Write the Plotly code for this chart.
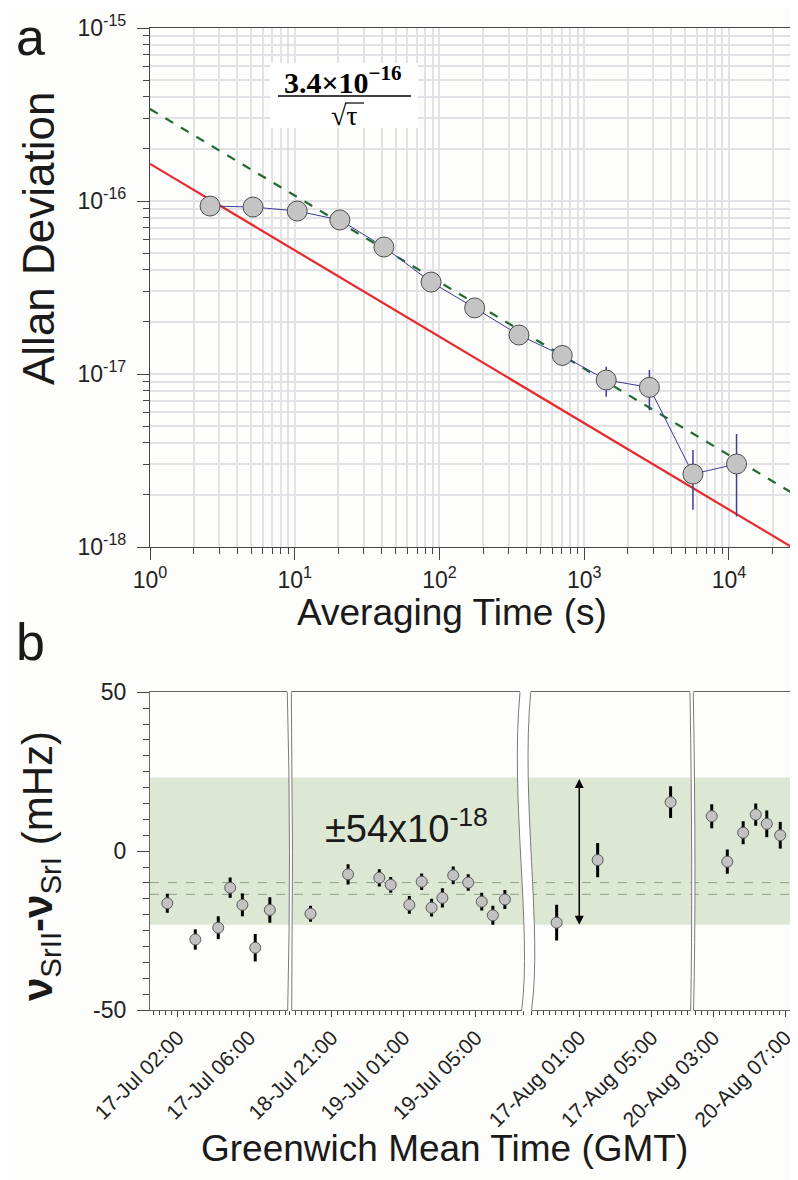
import plotly.graph_objects as go

# ---------------- panel a: Allan deviation ----------------
tau = [2.6, 5.15, 10.4, 20.5, 41.3, 87.5, 175, 354, 705, 1419, 2820, 5640, 11280]
adev = [9.35e-17, 9.23e-17, 8.75e-17, 7.77e-17, 5.42e-17, 3.40e-17, 2.41e-17,
        1.68e-17, 1.28e-17, 9.23e-18, 8.37e-18, 2.64e-18, 3.02e-18]
adev_err_hi = [2e-18, 2e-18, 2e-18, 2e-18, 1.5e-18, 1.2e-18, 1.0e-18,
               0.9e-18, 1.5e-18, 1.77e-18, 2.2e-18, 1.0e-18, 1.48e-18]
adev_err_lo = [2e-18, 2e-18, 2e-18, 2e-18, 1.5e-18, 1.2e-18, 1.0e-18,
               0.9e-18, 1.5e-18, 1.84e-18, 2.2e-18, 1.0e-18, 1.52e-18]

# straight lines on log-log, end points
line_tau = [1, 30000]
limit_adev = [1.64e-16, 9.5e-19]    # red solid
fit_adev = [3.4e-16, 1.96e-18]      # green dashed, 3.4e-16/sqrt(tau)

decade_vals = [1, 10, 100, 1000, 10000]
decade_text = ["10<sup>0</sup>", "10<sup>1</sup>", "10<sup>2</sup>",
               "10<sup>3</sup>", "10<sup>4</sup>"]
adev_vals = [1e-18, 1e-17, 1e-16, 1e-15]
adev_text = ["10<sup>-18</sup>", "10<sup>-17</sup>", "10<sup>-16</sup>", "10<sup>-15</sup>"]

# ---------------- panel b: frequency difference ----------------
seg1_time = ["2012-07-17 01:25", "2012-07-17 02:59", "2012-07-17 04:16",
             "2012-07-17 04:56", "2012-07-17 05:37", "2012-07-17 06:20",
             "2012-07-17 07:09"]
seg1_diff = [-16.4, -27.8, -24.1, -11.5, -16.9, -30.4, -18.5]
seg1_err = [3.0, 3.2, 3.6, 3.2, 3.6, 4.3, 4.0]

seg2_time = ["2012-07-18 19:50", "2012-07-18 21:55", "2012-07-18 23:39",
             "2012-07-19 00:17", "2012-07-19 01:19", "2012-07-19 02:00",
             "2012-07-19 02:33", "2012-07-19 03:09", "2012-07-19 03:45",
             "2012-07-19 04:35", "2012-07-19 05:20", "2012-07-19 05:57",
             "2012-07-19 06:37"]
seg2_diff = [-19.7, -7.3, -8.4, -10.6, -16.9, -9.6, -17.8, -14.7, -7.6,
             -9.9, -15.9, -20.2, -15.2]
seg2_err = [2.5, 3.2, 2.7, 2.5, 2.8, 2.6, 2.8, 3.0, 2.8, 2.6, 2.8, 3.0, 3.0]

seg3_time = ["2012-08-16 23:45", "2012-08-17 02:01", "2012-08-17 06:03"]
seg3_diff = [-22.5, -2.8, 15.4]
seg3_err = [5.6, 5.4, 5.0]

seg4_time = ["2012-08-20 02:55", "2012-08-20 03:47", "2012-08-20 04:40",
             "2012-08-20 05:22", "2012-08-20 05:59", "2012-08-20 06:44"]
seg4_diff = [11.0, -3.3, 5.8, 11.5, 8.6, 5.0]
seg4_err = [3.8, 3.8, 3.6, 3.5, 4.2, 4.2]

band_half = 23.2          # +-54e-18 of the Sr clock frequency, in mHz
mean_lines = [-9.9, -13.6]
arrow_time = "2012-08-17 01:00"

# ---------------- geometry helpers (screen pixels -> paper) ----------------
# the page body has an 8px margin, so the figure is 8px smaller than the window
W, H = 790, 1172
ML, MR, MT, MB = 142, 1, 20, 170
PAGE_OFF = 8


def fx(px):
    return (px - PAGE_OFF - ML) / (W - ML - MR)


def fy(py):
    return (H - MB - (py - PAGE_OFF)) / (H - MT - MB)


def pt(p):
    return f"{fx(p[0]):.5f},{fy(p[1]):.5f}"


FONT = "Liberation Sans, Arial, sans-serif"
SERIF = "Liberation Serif, Times New Roman, serif"
BG = "#fdfdfb"
GRID = "#e1e1e6"
AXC = "#444444"

fig = go.Figure()

# panel a traces
fig.add_trace(go.Scatter(x=line_tau, y=limit_adev, mode="lines",
                         line=dict(color="#e8292b", width=2.2),
                         xaxis="x", yaxis="y", showlegend=False))
fig.add_trace(go.Scatter(x=line_tau, y=fit_adev, mode="lines",
                         line=dict(color="#1f6b2f", width=2.2, dash="dash"),
                         xaxis="x", yaxis="y", showlegend=False))
fig.add_trace(go.Scatter(x=tau, y=adev, mode="lines+markers",
                         line=dict(color="#3c3c99", width=1),
                         marker=dict(size=20, color="#c4c4c4",
                                     line=dict(color="#4d4d4d", width=1)),
                         error_y=dict(type="data", symmetric=False, array=adev_err_hi,
                                      arrayminus=adev_err_lo, color="#3c3c99",
                                      thickness=1.5, width=0),
                         xaxis="x", yaxis="y", showlegend=False))

# panel b traces
segs = [(seg1_time, seg1_diff, seg1_err, "x2"),
        (seg2_time, seg2_diff, seg2_err, "x3"),
        (seg3_time, seg3_diff, seg3_err, "x4"),
        (seg4_time, seg4_diff, seg4_err, "x5")]
for t, d, e, xa in segs:
    fig.add_trace(go.Scatter(x=t, y=d, mode="markers",
                             marker=dict(size=11, color="#c2c2c2",
                                         line=dict(color="#5a5a5a", width=1)),
                             error_y=dict(type="data", array=e, color="black",
                                          thickness=3, width=0),
                             xaxis=xa, yaxis="y2", showlegend=False))

# axes -------------------------------------------------------------
top_dom = [fy(547), 1]
bot_dom = [0, fy(692.3)]
TICKF = dict(size=23, color="#222")

fig.update_layout(
    xaxis=dict(type="log", domain=[0, 1], anchor="y", range=[0, 4.47],
               tickmode="array", tickvals=decade_vals, ticktext=decade_text,
               ticks="outside", ticklen=12, tickcolor=AXC, automargin=False,
               showline=True, linecolor=AXC, linewidth=1.2, mirror=True,
               showgrid=True, gridcolor=GRID, gridwidth=2,
               minor=dict(dtick="D1", ticks="outside", ticklen=6, tickcolor=AXC,
                          showgrid=True, gridcolor=GRID, gridwidth=2),
               tickfont=TICKF),
    yaxis=dict(type="log", domain=top_dom, anchor="x", range=[-18, -15],
               tickmode="array", tickvals=adev_vals, ticktext=adev_text,
               ticks="outside", ticklen=12, tickcolor=AXC, automargin=False,
               ticklabelstandoff=6,
               showline=True, linecolor=AXC, linewidth=1.2, mirror=True,
               showgrid=True, gridcolor=GRID, gridwidth=2,
               minor=dict(dtick="D1", ticks="outside", ticklen=6, tickcolor=AXC,
                          showgrid=True, gridcolor=GRID, gridwidth=2),
               tickfont=TICKF),
    yaxis2=dict(domain=bot_dom, anchor="x2", range=[-50, 50],
                tickmode="array", tickvals=[-50, 0, 50], ticktext=["-50", "0", "50"],
                ticks="outside", ticklen=12, tickcolor=AXC, automargin=False,
                ticklabelstandoff=6,
                showline=True, linecolor="#666", linewidth=1.2,
                showgrid=False, zeroline=False,
                minor=dict(dtick=5, ticks="outside", ticklen=6, tickcolor=AXC),
                tickfont=TICKF),
    yaxis3=dict(domain=bot_dom, anchor="x5", overlaying="y2", side="right",
                range=[-50, 50], showline=True, linecolor="#666", linewidth=1.2,
                showticklabels=False, ticks="", showgrid=False, zeroline=False,
                automargin=False),
)

seg_px = [(150, 289.5), (289.5, 525.3), (525.3, 691.7), (691.7, 797)]
seg_range = [("2012-07-17 00:27", "2012-07-17 08:15"),
             ("2012-07-18 18:40", "2012-07-19 07:45"),
             ("2012-08-16 22:01", "2012-08-17 07:13"),
             ("2012-08-20 01:48", "2012-08-20 07:40")]
seg_tick0 = ["2012-07-17 02:00", "2012-07-18 21:00", "2012-08-17 01:00", "2012-08-20 03:00"]
for i in range(4):
    fig.layout[f"xaxis{i + 2}"] = dict(
        type="date", domain=[fx(seg_px[i][0]), fx(seg_px[i][1])], anchor="y2",
        range=list(seg_range[i]), tick0=seg_tick0[i], dtick=4 * 3600 * 1000,
        tickformat="%d-%b %H:%M", tickangle=-45, automargin=False,
        ticks="outside", ticklen=6, tickcolor=AXC,
        showline=True, linecolor="#666", linewidth=1.2, mirror=True,
        showgrid=False, zeroline=False,
        minor=dict(dtick=20 * 60 * 1000, ticks="outside", ticklen=4, tickcolor=AXC),
        tickfont=dict(size=21, color="#222"))

# shapes ------------------------------------------------------------
shapes = []
# green uncertainty band and the two dashed lines
shapes.append(dict(type="rect", xref="paper", yref="y2", x0=0, x1=1,
                   y0=-band_half, y1=band_half, fillcolor="#dce8d4",
                   line=dict(width=0), layer="below"))
for m in mean_lines:
    shapes.append(dict(type="line", xref="paper", yref="y2", x0=0, x1=1, y0=m, y1=m,
                       line=dict(color="#88a384", width=1, dash="dash"), layer="below"))

# axis breaks: (left edge, right edge) as bezier control points in pixels
breaks = [
    ("Q", [(287.3, 692.3), (291.5, 851), (287.7, 1010.3)],
          [(291.3, 692.3), (293.5, 851), (291.7, 1010.3)]),
    ("C", [(520, 692.3), (510, 800), (532, 930), (521.7, 1010.3)],
          [(530.7, 692.3), (520.7, 800), (542.7, 930), (531.5, 1010.3)]),
    ("Q", [(690, 692.3), (693, 880), (690.7, 1010.3)],
          [(693.3, 692.3), (696.5, 880), (693.6, 1010.3)]),
]
for kind, lt, rt in breaks:
    # fill between the two edges, slightly past the frame
    lt_f = [(lt[0][0], lt[0][1] - 2)] + lt[1:-1] + [(lt[-1][0], lt[-1][1] + 1)]
    rt_f = [(rt[0][0], rt[0][1] - 2)] + rt[1:-1] + [(rt[-1][0], rt[-1][1] + 1)]
    rr = rt_f[::-1]
    fill = (f"M {pt(lt_f[0])} {kind} " + " ".join(pt(p) for p in lt_f[1:])
            + f" L {pt(rr[0])} {kind} " + " ".join(pt(p) for p in rr[1:]) + " Z")
    shapes.append(dict(type="path", xref="paper", yref="paper", path=fill,
                       fillcolor="white", line=dict(width=0), layer="above"))
    for edge in (lt, rt):
        p = f"M {pt(edge[0])} {kind} " + " ".join(pt(q) for q in edge[1:])
        shapes.append(dict(type="path", xref="paper", yref="paper", path=p,
                           line=dict(color="#7a7a7a", width=1), layer="above"))

# formula box on panel a
shapes.append(dict(type="rect", xref="paper", yref="paper",
                   x0=fx(270), x1=fx(418), y0=fy(128), y1=fy(63),
                   fillcolor="white", line=dict(width=0), layer="above"))
shapes.append(dict(type="line", xref="paper", yref="paper",
                   x0=fx(278), x1=fx(411), y0=fy(96), y1=fy(96),
                   line=dict(color="black", width=1.6), layer="above"))
shapes.append(dict(type="line", xref="paper", yref="paper",
                   x0=fx(345), x1=fx(364), y0=fy(103), y1=fy(103),
                   line=dict(color="black", width=1.2), layer="above"))

# annotations -----------------------------------------------------------
ann = []


def text(s, x, y, size, angle=0, family=FONT, color="#1a1a1a"):
    ann.append(dict(text=s, x=fx(x), y=fy(y), xref="paper", yref="paper",
                    showarrow=False, xanchor="center", yanchor="middle",
                    textangle=angle, font=dict(family=family, size=size, color=color)))


text("a", 30, 37, 52)
text("b", 30, 642, 52)
text("Allan Deviation", 39, 238, 44, angle=-90)
text("Averaging Time (s)", 452, 612, 37)
text("<b>3.4×10<sup>−16</sup></b>", 343, 80, 30, family=SERIF, color="black")
text("√τ", 344, 115, 28, family=SERIF, color="black")
text("±54x10<sup>-18</sup>", 406, 826, 38)
text("<b>ν</b><sub>SrII</sub><b>-ν</b><sub>SrI</sub> (mHz)", 40, 866, 42, angle=-90)
text("Greenwich Mean Time (GMT)", 444, 1148, 37)

# double-headed arrow spanning the band
ann.append(dict(x=arrow_time, y=-band_half, ax=arrow_time, ay=band_half,
                xref="x4", yref="y2", axref="x4", ayref="y2", text="",
                showarrow=True, arrowhead=2, arrowside="end+start",
                arrowsize=1.2, arrowwidth=1.5, arrowcolor="black"))

fig.update_layout(
    width=W, height=H,
    margin=dict(l=ML, r=MR, t=MT, b=MB, autoexpand=False),
    paper_bgcolor=BG, plot_bgcolor="rgba(0,0,0,0)",
    font=dict(family=FONT, color="#222"),
    shapes=shapes, annotations=ann,
)

fig.write_html("out.html")
